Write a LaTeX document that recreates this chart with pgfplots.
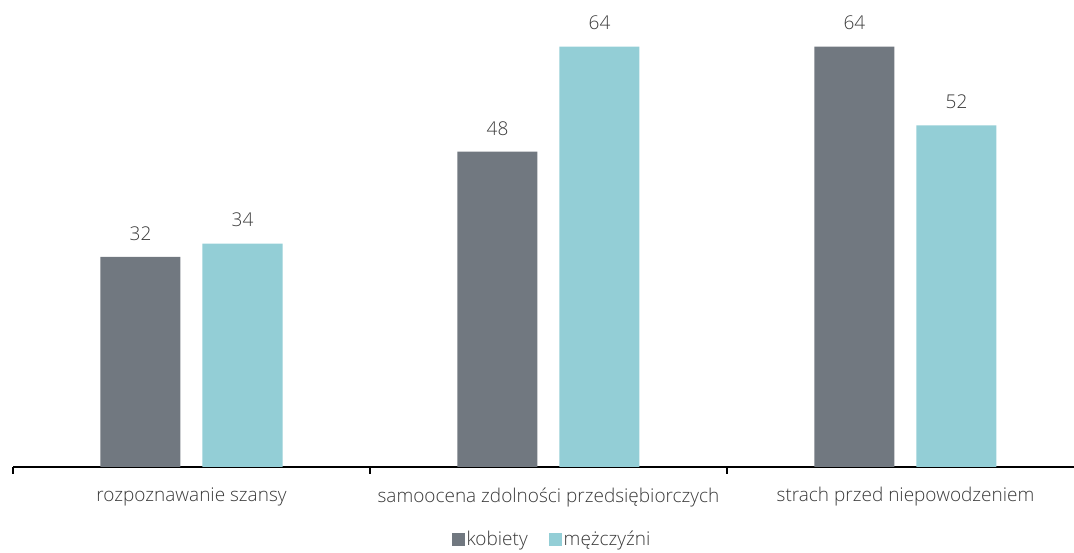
\documentclass[border=0pt]{standalone}
\usepackage{fontspec}
\setmainfont{Open Sans}[UprightFont=* Light]
\usepackage{pgfplots}
\pgfplotsset{compat=1.18}
\definecolor{cgray}{HTML}{717880}
\definecolor{cteal}{HTML}{93CED6}
\definecolor{ctext}{HTML}{3A3A3A}
\begin{document}
\begin{tikzpicture}
\useasboundingbox (0,0) rectangle (1074pt,553pt);
\begin{axis}[
  at={(13pt,86pt)}, anchor=south west,
  scale only axis, width=1061pt, height=467pt,
  xmin=-0.5, xmax=2.472, ymin=0, ymax=71.1,
  ybar=22pt, bar width=80pt,
  axis x line=bottom, axis y line=none,
  axis line style={-, line width=1.2pt, black},
  xtick={0,1,2},
  xticklabels={rozpoznawanie szansy, samoocena zdolności przedsiębiorczych, strach przed niepowodzeniem},
  major tick length=0pt,
  minor xtick={-0.5,0.5,1.5},
  minor tick length=7pt,
  tick align=outside,
  minor tick style={line width=1.2pt, black},
  x tick label style={font=\fontsize{19}{22}\selectfont, text=ctext, yshift=-17pt},
  /pgf/number format/assume math mode=true,
  nodes near coords,
  every node near coord/.append style={font=\fontsize{19}{22}\selectfont, text=ctext, yshift=13pt},
  legend columns=2,
  legend style={draw=none, at={(0.508,-0.155)}, anchor=center, font=\fontsize{19}{22}\selectfont, text=ctext,
    nodes={inner xsep=1.5pt, inner ysep=1pt},
    /tikz/every even column/.append style={column sep=20pt}},
  legend image code/.code={\fill[#1] (0pt,-6.5pt) rectangle (13pt,6.5pt);},
]
\addplot[draw=none, fill=cgray] coordinates {(0,32) (1,48) (2,64)};
\addplot[draw=none, fill=cteal] coordinates {(0,34) (1,64) (2,52)};
\legend{kobiety, mężczyźni}
\end{axis}
\end{tikzpicture}
\end{document}
